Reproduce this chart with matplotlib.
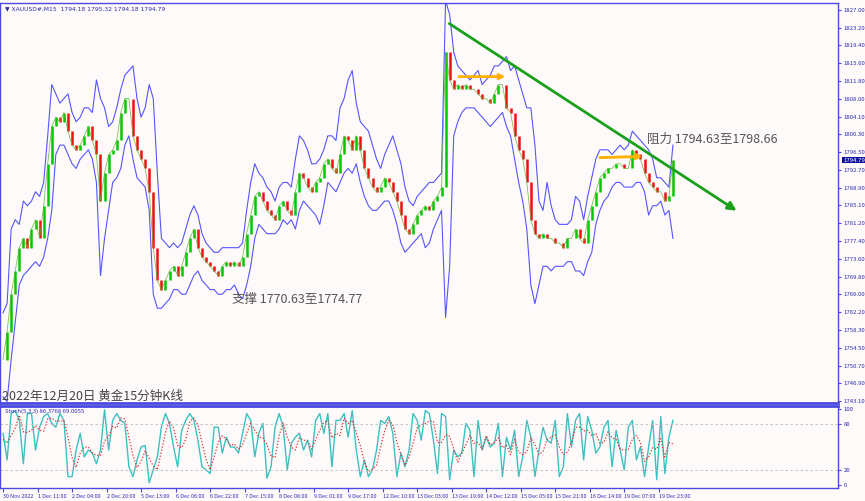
import matplotlib
matplotlib.use("Agg")
import matplotlib.pyplot as plt
import numpy as np

plt.rcParams['font.family'] = ['Noto Sans CJK SC', 'DejaVu Sans']

# 2-hour samples (hours since 30 Nov 2022 start)
close = [1752, 1758, 1766, 1771, 1776, 1778, 1776, 1780, 1782, 1778,
         1785, 1794, 1802, 1804, 1803, 1805, 1801, 1798, 1797, 1798,
         1800, 1802, 1799, 1796, 1786, 1792, 1796, 1797, 1799, 1805,
         1808, 1808, 1800, 1797, 1795, 1793, 1788, 1776, 1769, 1767,
         1769, 1771, 1772, 1770, 1772, 1775, 1778, 1780, 1776, 1774,
         1773, 1772, 1771, 1770, 1772, 1773, 1772, 1773, 1772, 1774,
         1779, 1783, 1787, 1788, 1786, 1784, 1783, 1782, 1785, 1786,
         1784, 1783, 1788, 1792, 1791, 1789, 1788, 1790, 1791, 1794,
         1795, 1793, 1792, 1796, 1800, 1799, 1797, 1800, 1797, 1793,
         1791, 1789, 1788, 1789, 1791, 1790, 1788, 1786, 1783, 1780,
         1779, 1781, 1783, 1784, 1785, 1784, 1786, 1787, 1789, 1818,
         1812, 1810, 1811, 1810, 1811, 1810, 1810, 1809, 1808, 1808,
         1807, 1809, 1811, 1811, 1806, 1805, 1800, 1797, 1795, 1790,
         1782, 1779, 1778, 1779, 1778, 1778, 1777, 1777, 1776, 1778,
         1778, 1780, 1778, 1777, 1782, 1785, 1788, 1791, 1792, 1793,
         1793, 1794, 1794, 1793, 1793, 1797, 1796, 1795, 1792, 1790,
         1789, 1788, 1788, 1786, 1787, 1794.79]
upper = [1762, 1764, 1780, 1782, 1781, 1786, 1785, 1786, 1788, 1787,
         1790, 1800, 1811, 1809, 1807, 1808, 1809, 1805, 1803, 1804,
         1806, 1806, 1805, 1812, 1808, 1806, 1802, 1803, 1806, 1810,
         1813, 1814, 1815, 1808, 1804, 1806, 1811, 1808, 1792, 1778,
         1777, 1776, 1777, 1776, 1777, 1780, 1783, 1785, 1783, 1779,
         1777, 1776, 1775, 1775, 1776, 1776, 1776, 1776, 1776, 1777,
         1784, 1790, 1794, 1792, 1791, 1789, 1788, 1786, 1789, 1790,
         1790, 1789, 1795, 1800, 1799, 1797, 1794, 1794, 1795, 1797,
         1800, 1800, 1799, 1806, 1808, 1812, 1814, 1807, 1803, 1802,
         1801, 1798, 1795, 1793, 1796, 1798, 1800, 1797, 1794, 1789,
         1786, 1785, 1787, 1788, 1789, 1790, 1790, 1791, 1792, 1829,
         1826, 1818, 1815, 1814, 1813, 1812, 1813, 1814, 1811, 1812,
         1813, 1815, 1815, 1816, 1817, 1814, 1815, 1812, 1809, 1806,
         1806, 1798, 1786, 1784, 1790, 1785, 1782, 1781, 1781, 1781,
         1782, 1787, 1786, 1782, 1787, 1791, 1795, 1797, 1797, 1797,
         1796, 1797, 1798, 1797, 1798, 1801, 1800, 1799, 1798, 1797,
         1795, 1791, 1791, 1790, 1789, 1798]
lower = [1744, 1743, 1752, 1760, 1768, 1770, 1771, 1772, 1773, 1772,
         1774, 1778, 1784, 1796, 1798, 1798, 1796, 1794, 1793, 1795,
         1796, 1797, 1795, 1790, 1770, 1778, 1784, 1790, 1791, 1793,
         1798, 1800, 1795, 1791, 1790, 1789, 1784, 1766, 1763, 1763,
         1764, 1765, 1767, 1767, 1766, 1766, 1768, 1770, 1771, 1769,
         1768, 1767, 1767, 1766, 1766, 1767, 1767, 1768, 1766, 1765,
         1768, 1772, 1778, 1781, 1780, 1779, 1779, 1779, 1780, 1782,
         1781, 1782, 1780, 1784, 1786, 1785, 1784, 1783, 1781, 1785,
         1790, 1789, 1788, 1790, 1792, 1793, 1792, 1794, 1790, 1787,
         1785, 1784, 1784, 1785, 1786, 1786, 1784, 1781, 1777, 1775,
         1776, 1777, 1778, 1779, 1776, 1777, 1780, 1782, 1784, 1761,
         1772, 1800, 1803, 1805, 1806, 1806, 1806, 1805, 1804, 1803,
         1802, 1803, 1804, 1805, 1802, 1800, 1795, 1790, 1786, 1780,
         1768, 1764, 1768, 1772, 1772, 1771, 1772, 1772, 1772, 1773,
         1773, 1771, 1771, 1770, 1773, 1775, 1781, 1784, 1786, 1787,
         1789, 1790, 1790, 1789, 1789, 1789, 1790, 1790, 1788, 1783,
         1785, 1785, 1786, 1783, 1784, 1778]
stoch_k = [68, 33, 94, 98, 85, 28, 94, 94, 46, 76, 90, 94, 81, 76, 94, 85, 11, 11, 46, 68,
           37, 46, 42, 28, 46, 99, 46, 85, 94, 85, 81, 24, 11, 33, 50, 52, 3, 20, 37, 76,
           94, 81, 50, 24, 72, 85, 94, 85, 59, 24, 20, 15, 76, 76, 42, 63, 50, 50, 42, 68,
           94, 85, 37, 68, 81, 9, 24, 76, 94, 76, 20, 55, 63, 68, 46, 59, 37, 85, 94, 68,
           94, 24, 85, 85, 94, 63, 98, 46, 11, 33, 11, 20, 46, 85, 81, 90, 68, 11, 42, 24,
           46, 94, 85, 59, 98, 94, 59, 15, 94, 90, 7, 46, 37, 42, 81, 72, 11, 85, 46, 63,
           50, 55, 81, 11, 63, 46, 72, 11, 37, 85, 63, 11, 46, 76, 59, 55, 85, 11, 24, 94,
           50, 85, 94, 33, 90, 72, 42, 50, 76, 85, 24, 72, 46, 20, 76, 85, 33, 50, 11, 50,
           85, 7, 90, 15, 63, 85]
stoch_d = [60, 55, 65, 75, 92, 70, 69, 72, 78, 72, 71, 87, 88, 84, 84, 85, 63, 36, 23, 42,
           50, 50, 42, 39, 39, 58, 64, 77, 75, 88, 87, 63, 39, 23, 31, 45, 35, 25, 20, 44,
           69, 84, 75, 52, 49, 60, 84, 88, 79, 56, 34, 20, 37, 56, 65, 60, 52, 54, 47, 53,
           68, 82, 72, 63, 62, 53, 38, 36, 65, 82, 63, 50, 46, 62, 59, 58, 47, 60, 72, 82,
           85, 62, 68, 65, 88, 81, 85, 69, 52, 30, 18, 21, 26, 50, 71, 85, 80, 56, 40, 26,
           37, 55, 75, 79, 81, 84, 84, 56, 56, 66, 64, 48, 30, 42, 53, 65, 55, 56, 47, 65,
           53, 56, 62, 49, 52, 40, 60, 43, 40, 44, 62, 53, 40, 44, 60, 63, 66, 50, 40, 43,
           56, 76, 76, 71, 72, 65, 68, 55, 56, 70, 62, 60, 47, 46, 47, 60, 65, 56, 31, 37,
           49, 47, 61, 37, 56, 54]

price_ticks = [1827.00, 1823.20, 1819.40, 1815.60, 1811.80, 1808.00, 1804.10, 1800.30,
               1796.50, 1792.70, 1788.90, 1785.10, 1781.20, 1777.40, 1773.60, 1769.80,
               1766.00, 1762.20, 1758.30, 1754.50, 1750.70, 1746.90, 1743.10]
time_labels = ["30 Nov 2022", "1 Dec 11:00", "2 Dec 04:00", "2 Dec 20:00", "5 Dec 13:00",
               "6 Dec 06:00", "6 Dec 22:00", "7 Dec 15:00", "8 Dec 08:00", "9 Dec 01:00",
               "9 Dec 17:00", "12 Dec 10:00", "13 Dec 03:00", "13 Dec 19:00", "14 Dec 12:00",
               "15 Dec 05:00", "15 Dec 21:00", "16 Dec 14:00", "19 Dec 07:00", "19 Dec 23:00"]
last_price = 1794.79

hours = np.arange(len(close)) * 2
opens = [close[0]] + close[:-1]

W, H = 865, 501
fig = plt.figure(figsize=(W / 100, H / 100), dpi=100)
bg = '#fffafa'
fig.patch.set_facecolor(bg)
axis_col = '#4a4ae0'
text_col = '#2a2ab0'

ax = fig.add_axes([0 / W, (H - 403) / H, 838 / W, 400 / H])
ax2 = fig.add_axes([0 / W, (H - 488) / H, 838 / W, 82 / H])
for a in (ax, ax2):
    a.set_facecolor(bg)
    for s in a.spines.values():
        s.set_color(axis_col)
        s.set_linewidth(1.0)
    a.set_xlim(-1.5, 411.3)
ax.spines['bottom'].set_linewidth(2)
ax2.spines['top'].set_linewidth(2)

# bands
ax.plot(hours, upper, color='#5555ff', lw=0.8)
ax.plot(hours, lower, color='#5555ff', lw=0.8)
# candles
cols = ['#00c800' if c >= o else '#ee1010' for o, c in zip(opens, close)]
lo = [min(o, c) for o, c in zip(opens, close)]
hi = [max(o, c) for o, c in zip(opens, close)]
ax.vlines(hours, lo, hi, colors=cols, lw=1.8)
ax.plot(hours, close, color='#60b030', lw=0.6, alpha=0.8)

ax.set_ylim(1742.67, 1828.5)
ax.yaxis.tick_right()
ax.set_yticks(price_ticks)
ax.set_yticklabels([f"{v:.2f}" for v in price_ticks])
ax.tick_params(axis='y', labelsize=4.3, colors=axis_col, labelcolor=text_col, length=2, pad=2)
ax.set_xticks([])

# price tag
ax.text(1.006, last_price, f"{last_price:.2f}", transform=ax.get_yaxis_transform(),
        fontsize=4.3, color='white', va='center', ha='left',
        bbox=dict(boxstyle='square,pad=0.15', fc='#1010a0', ec='none'))

# trend line and arrows
ax.annotate('', xy=(362.5, 1783.6), xytext=(218.7, 1824.4),
            arrowprops=dict(arrowstyle='-|>,head_length=0.5,head_width=0.25',
                            color='#1aa01a', lw=2))
ax.annotate('', xy=(248.8, 1812.7), xytext=(223.2, 1812.7),
            arrowprops=dict(arrowstyle='-|>,head_length=0.3,head_width=0.15',
                            color='#ffb000', lw=2))
ax.annotate('', xy=(316.3, 1795.6), xytext=(292.6, 1795.3),
            arrowprops=dict(arrowstyle='-|>,head_length=0.3,head_width=0.15',
                            color='#ffb000', lw=2))

ax.text(0.006, 0.992, "\u25bc XAUUSD#,M15  1794.18 1795.32 1794.18 1794.79",
        transform=ax.transAxes, fontsize=4.3, color=text_col, va='top', ha='left',
        family=['DejaVu Sans'])
ax.text(317, 1799.2, "阻力 1794.63至1798.66", fontsize=9, color='#555555', va='center')
ax.text(113, 1764.9, "支撑 1770.63至1774.77", fontsize=9, color='#555555', va='center')
ax.text(0.002, 0.016, "2022年12月20日 黄金15分钟K线", transform=ax.transAxes,
        fontsize=9, color='#444444', va='center', ha='left')

# stochastic panel
ax2.plot(hours, stoch_k, color='#3cc0c0', lw=1.0)
ax2.plot(hours, stoch_d, color='#e03030', lw=0.9, ls=(0, (1, 1.5)))
for lvl in (80, 20):
    ax2.axhline(lvl, color='#bbbbbb', lw=0.6, ls=(0, (3, 3)))
ax2.set_ylim(-3.9, 103.9)
ax2.yaxis.tick_right()
ax2.set_yticks([100, 80, 20, 0])
ax2.tick_params(axis='y', labelsize=4.3, colors=axis_col, labelcolor=text_col, length=2, pad=2)
ax2.set_xticks(np.arange(len(time_labels)) * 17)
ax2.set_xticklabels(time_labels, ha='left')
ax2.tick_params(axis='x', labelsize=3.9, colors=axis_col, labelcolor=text_col, length=3, pad=1)
ax2.text(0.006, 0.97, "Stoch(5,3,3) 86.3768 69.0055", transform=ax2.transAxes,
         fontsize=4.3, color=text_col, va='top', ha='left')

fig.savefig("out.png", dpi=100, facecolor=bg)
